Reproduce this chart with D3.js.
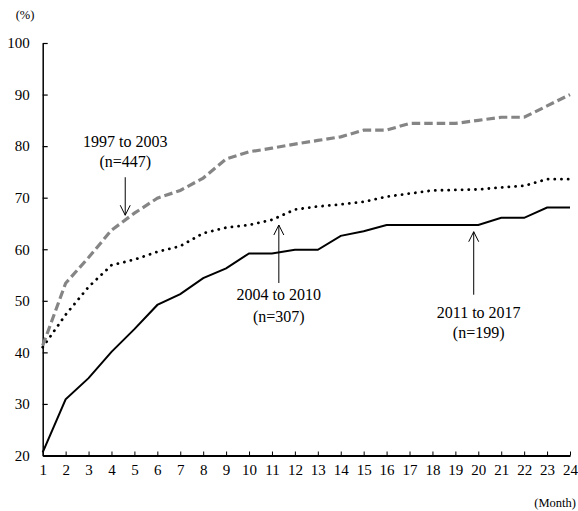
<!DOCTYPE html>
<html>
<head>
<meta charset="utf-8">
<script src="https://cdn.jsdelivr.net/npm/d3@7"></script>
<style>
  body { margin: 0; background: #fff; }
  svg text { font-family: "Liberation Serif", Tinos, "Times New Roman", Times, "DejaVu Serif", serif !important; }
</style>
</head>
<body>
<div id="chart"></div>
<script>
// months 1..24
const months = d3.range(1, 25);
const yTicks = [20, 30, 40, 50, 60, 70, 80, 90, 100];

// cumulative rate (%) per period
const s1997 = [41.3, 53.4, 58.4, 63.7, 67.0, 69.9, 71.4, 73.8, 77.5, 78.9, 79.6, 80.4, 81.1, 81.8, 83.1, 83.1, 84.4, 84.4, 84.4, 85.0, 85.6, 85.6, 87.8, 90.0];
const s2004 = [41.0, 47.3, 52.7, 56.9, 58.0, 59.5, 60.6, 63.1, 64.2, 64.7, 65.7, 67.7, 68.3, 68.7, 69.2, 70.2, 70.8, 71.4, 71.5, 71.6, 72.0, 72.3, 73.6, 73.6];
const s2011 = [20.6, 30.9, 35.0, 40.1, 44.5, 49.2, 51.3, 54.4, 56.3, 59.2, 59.2, 59.9, 59.9, 62.6, 63.5, 64.7, 64.7, 64.7, 64.7, 64.7, 66.1, 66.1, 68.1, 68.1];

// annotation labels: text, n, month the arrow points at, value at arrow tip
const notes = [
  { label: "1997 to 2003", n: "(n=447)", month: 4.6, tip: 66.6, dir: "down" },
  { label: "2004 to 2010", n: "(n=307)", month: 11.3, tip: 64.7, dir: "up" },
  { label: "2011 to 2017", n: "(n=199)", month: 19.8, tip: 63.4, dir: "up" }
];

const width = 578, height = 511;
const margin = { top: 43, right: 8, bottom: 55.5, left: 42.7 };

const svg = d3.select("#chart").append("svg")
  .attr("width", width)
  .attr("height", height);

const x = d3.scaleLinear().domain([1, 24]).range([margin.left, 570]);
const y = d3.scaleLinear().domain([20, 100]).range([height - margin.bottom, margin.top]);

// y axis
const yAxis = svg.append("g")
  .attr("transform", `translate(${margin.left},0)`)
  .call(d3.axisLeft(y).tickValues(yTicks).tickSize(-5).tickPadding(13).tickSizeOuter(0));
yAxis.attr("font-family", null);
yAxis.select(".domain").attr("stroke", "#000").attr("stroke-width", 1.5);
yAxis.selectAll(".tick line").attr("stroke", "#000").attr("stroke-width", 1.2);
yAxis.selectAll(".tick text").attr("font-size", 15).attr("fill", "#000");

// x axis
const xAxis = svg.append("g")
  .attr("transform", `translate(0,${y(20)})`)
  .call(d3.axisBottom(x).tickValues(months).tickSize(-4).tickPadding(9).tickSizeOuter(0));
xAxis.attr("font-family", null);
xAxis.select(".domain").attr("stroke", "#000").attr("stroke-width", 2.2);
xAxis.selectAll(".tick line").attr("stroke", "#000").attr("stroke-width", 1);
xAxis.selectAll(".tick text").attr("font-size", 15).attr("fill", "#000");

// unit labels
svg.append("text").attr("x", 25).attr("y", 19)
  .attr("text-anchor", "middle").attr("font-size", 12.5).text("(%)");
svg.append("text").attr("x", 576).attr("y", 507)
  .attr("text-anchor", "end").attr("font-size", 12.5).text("(Month)");

const line = d3.line()
  .x((d, i) => x(months[i]))
  .y(d => y(d));

svg.append("path")
  .datum(s2011)
  .attr("d", line)
  .attr("fill", "none")
  .attr("stroke", "#000")
  .attr("stroke-width", 2);

svg.append("path")
  .datum(s2004)
  .attr("d", line)
  .attr("fill", "none")
  .attr("stroke", "#000")
  .attr("stroke-width", 2.8)
  .attr("stroke-linecap", "round")
  .attr("stroke-dasharray", "0.1 6.6");

svg.append("path")
  .datum(s1997)
  .attr("d", line)
  .attr("fill", "none")
  .attr("stroke", "#858585")
  .attr("stroke-width", 3.2)
  .attr("stroke-dasharray", "8.5 4");

// annotations
const ann = svg.append("g").attr("font-size", 16).attr("fill", "#000");
notes.forEach(d => {
  const ax = x(d.month);
  const ty = y(d.tip);
  let y0, textY, gap;
  if (d.dir === "down") {
    y0 = ty - 38;
    textY = y0 - 30;
    gap = 20;
  } else if (d.month > 15) {
    y0 = ty + 63;
    textY = y0 + 23;
    gap = 20;
  } else {
    y0 = ty + 58;
    textY = y0 + 17;
    gap = 22;
  }
  ann.append("line")
    .attr("x1", ax).attr("x2", ax)
    .attr("y1", y0).attr("y2", ty)
    .attr("stroke", "#000").attr("stroke-width", 1);
  const s = d.dir === "down" ? -1 : 1;
  ann.append("path")
    .attr("d", `M${ax - 5},${ty + s * 10}L${ax},${ty}L${ax + 5},${ty + s * 10}`)
    .attr("fill", "none").attr("stroke", "#000").attr("stroke-width", 1);
  const tx = d.month > 15 ? ax + 5 : ax;
  ann.append("text").attr("x", tx).attr("y", textY)
    .attr("text-anchor", "middle").text(d.label);
  ann.append("text").attr("x", tx).attr("y", textY + gap)
    .attr("text-anchor", "middle").text(d.n);
});
</script>
</body>
</html>
